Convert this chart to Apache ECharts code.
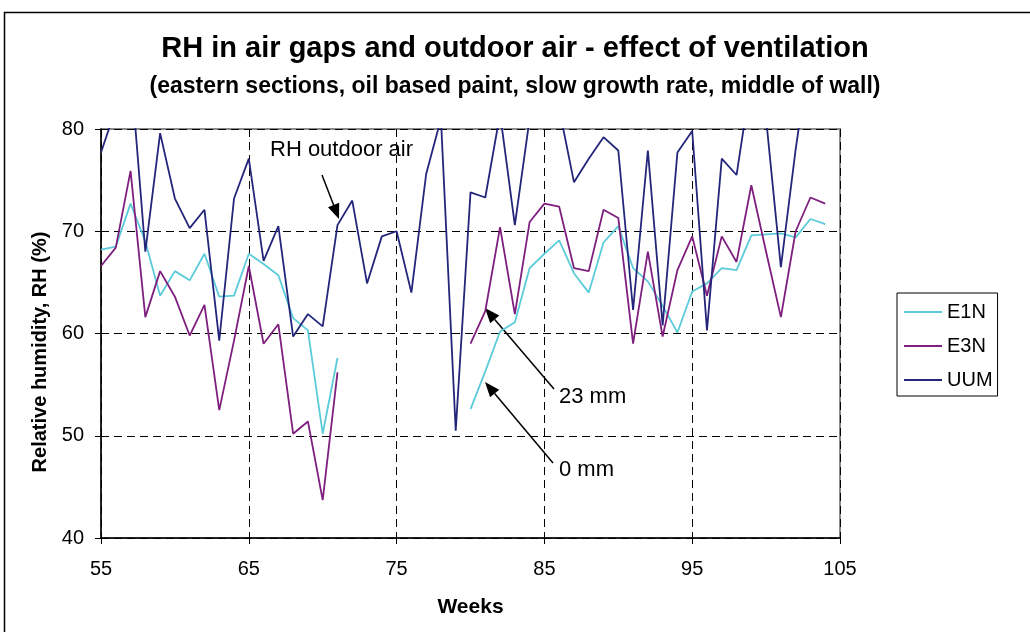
<!DOCTYPE html>
<html>
<head>
<meta charset="utf-8">
<script src="https://cdn.jsdelivr.net/npm/echarts@6/dist/echarts.min.js"></script>
<style>
  html, body { margin: 0; padding: 0; background: #fff; }
  #chart { width: 1030px; height: 632px; }
</style>
</head>
<body>
<div id="chart"></div>
<script>
// weeks 55..104
const weeks = [55, 56, 57, 58, 59, 60, 61, 62, 63, 64, 65, 66, 67, 68, 69, 70, 71, 72, 73, 74,
  75, 76, 77, 78, 79, 80, 81, 82, 83, 84, 85, 86, 87, 88, 89, 90, 91, 92, 93, 94,
  95, 96, 97, 98, 99, 100, 101, 102, 103, 104];

const e1n = [68.2, 68.5, 72.7, 69.0, 63.7, 66.1, 65.2, 67.8, 63.6, 63.7, 67.8, 66.8, 65.7, 61.5, 60.3, 50.2, 57.6, null, null, null,
  null, null, null, null, null, 52.6, 56.3, 60.2, 61.1, 66.4, 67.8, 69.1, 65.9, 64.0, 68.9, 70.5, 66.4, 65.1, 62.7, 60.1,
  64.1, 64.9, 66.4, 66.2, 69.6, 69.7, 69.8, 69.4, 71.2, 70.7];

const e3n = [66.6, 68.4, 75.9, 61.6, 66.1, 63.6, 59.8, 62.8, 52.5, 59.3, 66.6, 59.0, 60.9, 50.2, 51.4, 43.7, 56.2, null, null, null,
  null, null, null, null, null, 59.0, 62.2, 70.4, 61.9, 70.9, 72.7, 72.4, 66.4, 66.1, 72.1, 71.3, 59.0, 68.0, 59.7, 66.2,
  69.5, 63.7, 69.5, 67.0, 74.5, 68.0, 61.6, 70.0, 73.3, 72.7];

// outdoor air (values above 80 are cut off by the axis)
const uum = [77.7, 82, 86, 68.0, 79.6, 73.2, 70.3, 72.1, 59.3, 73.2, 77.1, 67.1, 70.5, 59.7, 61.9, 60.7, 70.6, 73.0, 64.9, 69.5,
  70.0, 64.0, 75.6, 81, 50.5, 73.8, 73.3, 81.5, 70.6, 81, 85, 82, 74.8, 77.1, 79.2, 77.9, 62.3, 77.9, 60.8, 77.7,
  79.8, 60.3, 77.1, 75.5, 85, 81, 66.5, 78.0, 88, 85];

const seriesNames = ['E1N', 'E3N', 'UUM'];
const seriesColors = ['#5ccbd9', '#7e1f7e', '#23267a'];

const pairs = vals => weeks.map((w, i) => [w, vals[i]]);

// arrow: line + filled head pointing at (x2, y2)
function arrow(x1, y1, x2, y2) {
  const a = Math.atan2(y2 - y1, x2 - x1);
  const len = 15, half = 6;
  const bx = x2 - len * Math.cos(a), by = y2 - len * Math.sin(a);
  const nx = -Math.sin(a) * half, ny = Math.cos(a) * half;
  return [
    { type: 'line', shape: { x1: x1, y1: y1, x2: bx, y2: by }, style: { stroke: '#000', lineWidth: 1.5 } },
    { type: 'polygon', shape: { points: [[x2, y2], [bx + nx, by + ny], [bx - nx, by - ny]] }, style: { fill: '#000' } }
  ];
}

const chart = echarts.init(document.getElementById('chart'));
const font = 'Liberation Sans, Arial, sans-serif';

const option = {
  animation: false,
  backgroundColor: '#fff',
  title: [
    {
      text: 'RH in air gaps and outdoor air - effect of ventilation',
      left: 'center', top: 29,
      textStyle: { fontFamily: font, fontSize: 29, fontWeight: 'bold', color: '#000' }
    },
    {
      text: '(eastern sections, oil based paint, slow growth rate, middle of wall)',
      left: 'center', top: 70,
      textStyle: { fontFamily: font, fontSize: 23, fontWeight: 'bold', color: '#000' }
    }
  ],
  legend: {
    orient: 'vertical',
    left: 897, top: 293,
    padding: [9, 5, 6, 7],
    itemGap: 14,
    icon: 'rect',
    itemWidth: 38, itemHeight: 2,
    borderColor: '#000', borderWidth: 1,
    textStyle: { fontFamily: font, fontSize: 20, lineHeight: 20, color: '#000' },
    data: seriesNames
  },
  grid: {
    left: 101, top: 129, width: 739, height: 409,
    show: true, borderColor: '#8a8a8a', borderWidth: 2
  },
  xAxis: {
    type: 'value', min: 55, max: 105, interval: 10,
    name: 'Weeks', nameLocation: 'middle', nameGap: 59,
    nameTextStyle: { fontFamily: font, fontSize: 21, fontWeight: 'bold', color: '#000' },
    axisLine: { show: true, onZero: false, lineStyle: { color: '#000', width: 1.5 } },
    axisTick: { show: true, inside: false, length: 6, lineStyle: { color: '#000' } },
    axisLabel: { fontFamily: font, fontSize: 20, color: '#000', margin: 21 },
    splitLine: { show: true, lineStyle: { color: '#000', type: [8, 5], width: 1 } }
  },
  yAxis: {
    type: 'value', min: 40, max: 80, interval: 10,
    axisLine: { show: true, lineStyle: { color: '#000', width: 1.5 } },
    axisTick: { show: true, inside: false, length: 6, lineStyle: { color: '#000' } },
    axisLabel: { fontFamily: font, fontSize: 20, color: '#000', margin: 17 },
    splitLine: { show: true, lineStyle: { color: '#000', type: [8, 5], width: 1 } }
  },
  series: [
    { name: seriesNames[0], type: 'line', data: pairs(e1n), symbol: 'none', clip: true,
      lineStyle: { color: seriesColors[0], width: 1.8 }, itemStyle: { color: seriesColors[0] } },
    { name: seriesNames[1], type: 'line', data: pairs(e3n), symbol: 'none', clip: true,
      lineStyle: { color: seriesColors[1], width: 1.8 }, itemStyle: { color: seriesColors[1] } },
    { name: seriesNames[2], type: 'line', data: pairs(uum), symbol: 'none', clip: true,
      lineStyle: { color: seriesColors[2], width: 1.8 }, itemStyle: { color: seriesColors[2] } }
  ],
  graphic: [
    { type: 'rect', silent: true, shape: { x: 4.5, y: 12.5, width: 1100, height: 700 },
      style: { fill: 'none', stroke: '#000', lineWidth: 1.5 } },
    // y axis title, sits a bit below the plot centre in the original
    { type: 'text', x: 40, y: 352, rotation: Math.PI / 2,
      style: { text: 'Relative humidity, RH (%)', fontFamily: font, fontSize: 20, fontWeight: 'bold',
        fill: '#000', align: 'center', verticalAlign: 'middle' } },
    { type: 'text', left: 270, top: 139,
      style: { text: 'RH outdoor air', fontFamily: font, fontSize: 22, fill: '#000' } },
    { type: 'text', left: 559, top: 386,
      style: { text: '23 mm', fontFamily: font, fontSize: 22, fill: '#000' } },
    { type: 'text', left: 559, top: 459,
      style: { text: '0 mm', fontFamily: font, fontSize: 22, fill: '#000' } }
  ].concat(arrow(322, 175, 339, 219), arrow(554, 389, 485, 308), arrow(553, 463, 485, 382))
};

chart.setOption(option);
</script>
</body>
</html>
